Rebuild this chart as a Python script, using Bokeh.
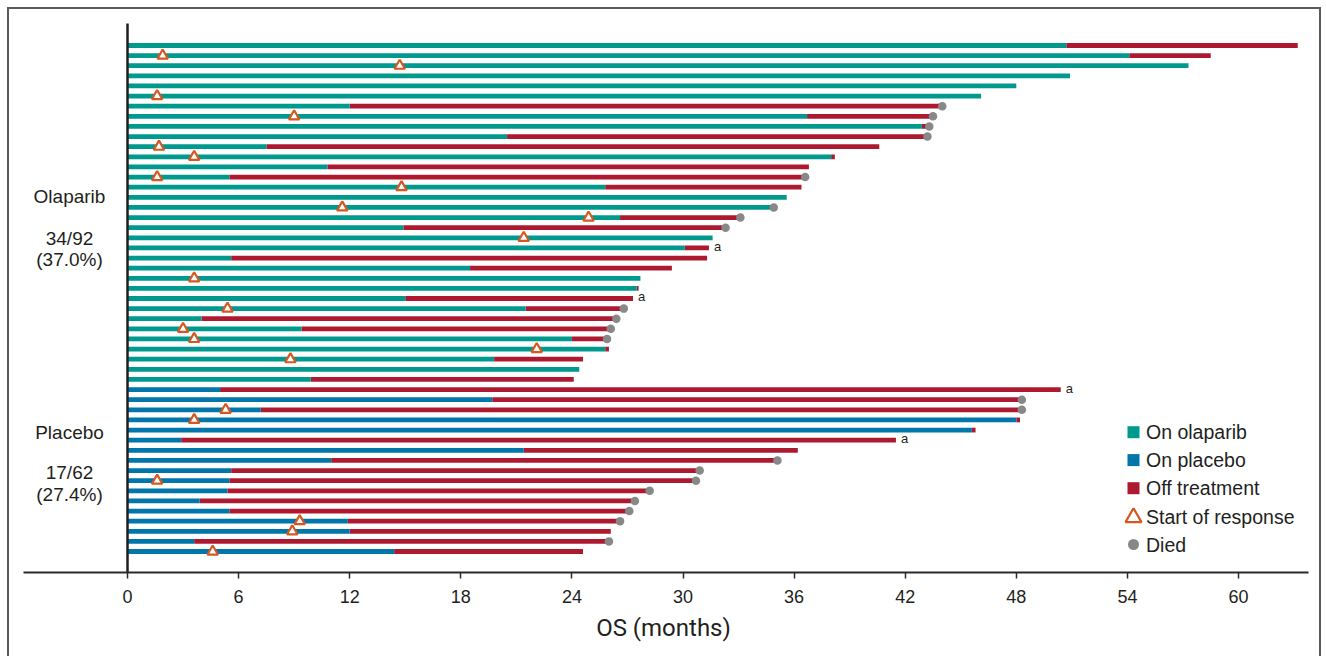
import math
from bokeh.plotting import figure
from bokeh.models import Range1d, FixedTicker, LinearAxis, ColumnDataSource
from bokeh.core.properties import value
from bokeh.embed import file_html
from bokeh.resources import INLINE

NA = math.nan

# ---- Olaparib arm: one patient per row, top to bottom (months) ----
olaparib_on_treatment = [50.7, 54.1, 57.3, 50.9, 48.0, 46.1, 12.0, 36.7, 42.9, 20.5,
                         7.5, 38.0, 10.8, 5.5, 25.8, 35.6, 34.7, 26.6, 14.9, 31.6,
                         30.1, 5.6, 18.5, 27.7, 27.5, 15.0, 21.5, 4.0, 9.4, 24.0,
                         25.8, 19.8, 24.4, 9.9]
olaparib_os = [63.2, 58.5, 57.3, 50.9, 48.0, 46.1, 44.0, 43.5, 43.3, 43.2,
               40.6, 38.2, 36.8, 36.6, 36.4, 35.6, 34.9, 33.1, 32.3, 31.6,
               31.4, 31.3, 29.4, 27.7, 27.6, 27.3, 26.8, 26.4, 26.1, 25.9,
               26.0, 24.6, 24.4, 24.1]
olaparib_response = [NA, 1.9, 14.7, NA, NA, 1.6, NA, 9.0, NA, NA,
                     1.7, 3.6, NA, 1.6, 14.8, NA, 11.6, 24.9, NA, 21.4,
                     NA, NA, NA, 3.6, NA, NA, 5.4, NA, 3.0, 3.6,
                     22.1, 8.8, NA, NA]
olaparib_died = [0, 0, 0, 0, 0, 0, 1, 1, 1, 1,
                 0, 0, 0, 1, 0, 0, 1, 1, 1, 0,
                 0, 0, 0, 0, 0, 0, 1, 1, 1, 1,
                 0, 0, 0, 0]
olaparib_note_a = [0, 0, 0, 0, 0, 0, 0, 0, 0, 0,
                   0, 0, 0, 0, 0, 0, 0, 0, 0, 0,
                   1, 0, 0, 0, 0, 1, 0, 0, 0, 0,
                   0, 0, 0, 0]

# ---- Placebo arm ----
placebo_on_treatment = [5.0, 19.7, 7.2, 48.0, 45.6, 2.9, 21.4, 11.0, 5.6, 5.5,
                        5.4, 3.9, 5.5, 11.9, 12.0, 3.6, 14.4]
placebo_os = [50.4, 48.3, 48.3, 48.2, 45.8, 41.5, 36.2, 35.1, 30.9, 30.7,
              28.2, 27.4, 27.1, 26.6, 26.1, 26.0, 24.6]
placebo_response = [NA, NA, 5.3, 3.6, NA, NA, NA, NA, NA, 1.6,
                    NA, NA, NA, 9.3, 8.9, NA, 4.6]
placebo_died = [0, 1, 1, 0, 0, 0, 0, 1, 1, 1, 1, 1, 1, 1, 0, 1, 0]
placebo_note_a = [1, 0, 0, 0, 0, 1, 0, 0, 0, 0, 0, 0, 0, 0, 0, 0, 0]

arm_names = ["Olaparib", "Placebo"]
arm_events = ["34/92", "17/62"]
arm_percent = ["(37.0%)", "(27.4%)"]

x_ticks = [0, 6, 12, 18, 24, 30, 36, 42, 48, 54, 60]
x_title = "OS (months)"

legend_labels = ["On olaparib", "On placebo", "Off treatment", "Start of response", "Died"]

# ---- styling ----
TEAL = "#00998e"
BLUE = "#0076ab"
RED = "#ad1a30"
ORANGE = "#d4581f"
GREY = "#888888"
INK = "#231f20"
FONT = value("Liberation Sans")

# ---- assemble rows ----
on_tx = olaparib_on_treatment + placebo_on_treatment
os_t = olaparib_os + placebo_os
resp = olaparib_response + placebo_response
died = olaparib_died + placebo_died
note_a = olaparib_note_a + placebo_note_a
n_ola = len(olaparib_on_treatment)
rows = list(range(len(on_tx)))
on_color = [TEAL] * n_ola + [BLUE] * len(placebo_on_treatment)

# pixel geometry of the frame: month 0 at x=127, 18.5167 px per month; row pitch 10.12 px
PX_PER_MONTH = 1111 / 60
ROW_PX = 10.12
FRAME_H = 572

p = figure(width=1326, height=656, output_backend="svg", toolbar_location=None,
           x_axis_type=None, y_axis_type=None,
           x_range=Range1d(-127 / PX_PER_MONTH, (1326 - 127) / PX_PER_MONTH),
           y_range=Range1d((FRAME_H - 45) / ROW_PX, -45 / ROW_PX),
           min_border_left=0, min_border_right=0, min_border_top=0, min_border_bottom=84)
p.grid.visible = False
p.outline_line_color = None
p.background_fill_color = None
p.border_fill_color = None
# outer box round the figure (open at the bottom)
edge = "linear-gradient(#5b5b5b,#5b5b5b)"
p.styles = {
    "background": f"{edge} 7px 7px / 2px 660px no-repeat, "
                  f"{edge} 1319px 7px / 2px 660px no-repeat, "
                  f"{edge} 7px 7px / 1314px 2px no-repeat, white"
}

# off-treatment segments
off_src = ColumnDataSource(dict(
    y=[r for r in rows if os_t[r] > on_tx[r]],
    left=[on_tx[r] for r in rows if os_t[r] > on_tx[r]],
    right=[os_t[r] for r in rows if os_t[r] > on_tx[r]],
))
p.hbar(y="y", left="left", right="right", height=0.47, source=off_src,
       fill_color=RED, line_color=None)

# on-treatment segments
on_src = ColumnDataSource(dict(y=rows, right=on_tx, color=on_color))
p.hbar(y="y", left=0, right="right", height=0.47, source=on_src,
       fill_color="color", line_color=None)

# start of response
resp_rows = [r for r in rows if not math.isnan(resp[r])]
p.scatter(x=[resp[r] for r in resp_rows], y=resp_rows, marker="triangle", size=10.5,
          fill_color="white", line_color=ORANGE, line_width=2.2)

# deaths
death_rows = [r for r in rows if died[r]]
p.scatter(x=[os_t[r] for r in death_rows], y=death_rows, marker="circle", size=8.5,
          fill_color=GREY, line_color=None)

# footnote markers
a_rows = [r for r in rows if note_a[r]]
p.text(x=[os_t[r] for r in a_rows], y=[r - 0.15 for r in a_rows], text=["a"] * len(a_rows),
       x_offset=5, text_font=FONT, text_font_size="13px", text_color=INK,
       text_align="left", text_baseline="middle")

# y axis line
p.segment(x0=[0], y0=[-22 / ROW_PX], x1=[0], y1=[(FRAME_H + 2 - 45) / ROW_PX],
          line_color="#1e1e1e", line_width=2.5)

# arm labels
label_x = (69 - 127) / PX_PER_MONTH
group_rows = [[14.9, 19.07, 21.15], [38.24, 42.19, 44.37]]
for name, ev, pct, gr in zip(arm_names, arm_events, arm_percent, group_rows):
    p.text(x=[label_x] * 3, y=gr, text=[name, ev, pct], text_font=FONT,
           text_font_size="19px", text_color=INK, text_align="center",
           text_baseline="middle")

# legend
leg_x = (1133 - 127) / PX_PER_MONTH
leg_tx = (1145.5 - 127) / PX_PER_MONTH
leg_y = [(y - 45) / ROW_PX for y in (431.7, 459.6, 487.7, 516.0, 544.0)]
p.scatter(x=[leg_x] * 3, y=leg_y[:3], marker="square", size=12,
          fill_color=[TEAL, BLUE, RED], line_color=None)
p.scatter(x=[leg_x], y=[leg_y[3] + 0.1], marker="triangle", size=16,
          fill_color="white", line_color=ORANGE, line_width=2.2)
p.scatter(x=[leg_x], y=[leg_y[4]], marker="circle", size=11,
          fill_color=GREY, line_color=None)
p.text(x=[leg_tx] * 5, y=leg_y, text=legend_labels, text_font=FONT,
       text_font_size="19.5px", text_color=INK, text_align="left",
       text_baseline="middle")

# x axis
xaxis = LinearAxis(ticker=FixedTicker(ticks=x_ticks), bounds=(-5.6, 63.8))
xaxis.axis_line_color = "#2a2a2a"
xaxis.axis_line_width = 2
xaxis.major_tick_line_color = "#2a2a2a"
xaxis.major_tick_line_width = 1.5
xaxis.major_tick_in = 0
xaxis.major_tick_out = 6
xaxis.minor_tick_line_color = None
xaxis.major_label_text_font = "Liberation Sans"
xaxis.major_label_text_font_size = "18px"
xaxis.major_label_text_color = INK
xaxis.major_label_standoff = 11
xaxis.axis_label = x_title
xaxis.axis_label_text_font = "Roboto"
xaxis.axis_label_text_font_size = "24px"
xaxis.axis_label_text_font_style = "normal"
xaxis.axis_label_text_color = INK
xaxis.axis_label_standoff = 8
p.add_layout(xaxis, "below")

open("out.html", "w").write(file_html(p, INLINE))
